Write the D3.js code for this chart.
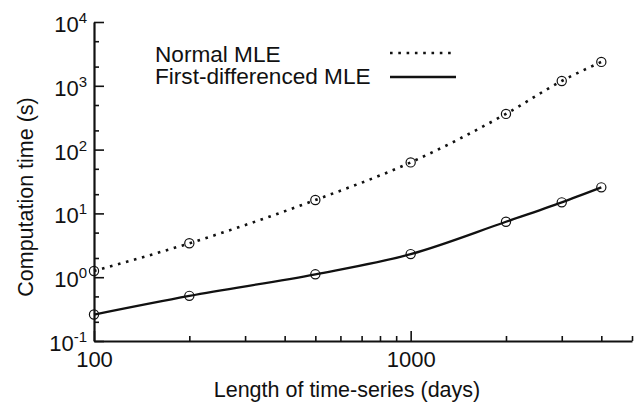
<!DOCTYPE html>
<html>
<head>
<meta charset="utf-8">
<script src="https://cdn.jsdelivr.net/npm/d3@7"></script>
<style>
  body { margin: 0; background: #fff; }
  svg { display: block; font-family: "Liberation Sans", Arial, Helvetica, sans-serif; }
</style>
</head>
<body>
<div id="chart"></div>
<script>
var lengths = [100, 200, 500, 1000, 2000, 3000, 4000];
var normalMLE = [1.25, 3.4, 16.2, 63, 363, 1190, 2370];
var firstDiffMLE = [0.26, 0.51, 1.11, 2.3, 7.4, 14.9, 25.6];
var seriesNames = ["Normal MLE", "First-differenced MLE"];
var xMajor = [100, 1000];
var xMinor = [200, 300, 400, 500, 600, 700, 800, 900, 2000, 3000, 4000, 5000];
var yMajor = [0.1, 1, 10, 100, 1000, 10000];
var yMinor = [0.2, 0.5, 2, 5, 20, 50, 200, 500, 2000, 5000];

var width = 636, height = 405;
var plotLeft = 94, plotRight = 632, plotTop = 22, plotBottom = 341;
var ink = "#111";

var svg = d3.select("#chart").append("svg")
            .attr("width", width)
            .attr("height", height);

var x = d3.scaleLog().domain([100, 5000]).range([plotLeft, plotRight]);
var y = d3.scaleLog().domain([0.1, 10000]).range([plotBottom, plotTop]);

// minor ticks first, then the major axis with labels on top
svg.append("g")
   .attr("transform", "translate(0," + plotBottom + ")")
   .call(d3.axisBottom(x).tickValues(xMinor).tickSize(-5).tickFormat(""))
   .call(function(g) { g.select(".domain").remove(); });

svg.append("g")
   .attr("transform", "translate(" + plotLeft + ",0)")
   .call(d3.axisLeft(y).tickValues(yMinor).tickSize(-5).tickFormat(""))
   .call(function(g) { g.select(".domain").remove(); });

var xAxis = svg.append("g")
   .attr("transform", "translate(0," + plotBottom + ")")
   .call(d3.axisBottom(x).tickValues(xMajor).tickSizeInner(-10).tickSizeOuter(0)
           .tickPadding(10).tickFormat(d3.format("d")));

var yAxis = svg.append("g")
   .attr("transform", "translate(" + plotLeft + ",0)")
   .call(d3.axisLeft(y).tickValues(yMajor).tickSizeInner(-10).tickSizeOuter(0)
           .tickPadding(7).tickFormat(""));

yAxis.selectAll(".tick text")
     .attr("dy", "0.43em")
     .each(function(d) {
        var t = d3.select(this);
        t.append("tspan").text("10");
        t.append("tspan").attr("dy", -9).attr("font-size", 15)
         .text(Math.round(Math.log10(d)));
     });

svg.selectAll(".tick line").attr("stroke", ink).attr("stroke-width", 1.6);
svg.selectAll(".domain").attr("stroke", ink).attr("stroke-width", 2.2);
svg.selectAll(".tick text").attr("fill", ink).attr("font-size", 22)
   .attr("font-family", "\"Liberation Sans\", Arial, Helvetica, sans-serif");

// series
var line = d3.line()
             .x(function(d) { return x(d[0]); })
             .y(function(d) { return y(d[1]); })
             .curve(d3.curveMonotoneX);

var normalPts = lengths.map(function(v, i) { return [v, normalMLE[i]]; });
var diffPts = lengths.map(function(v, i) { return [v, firstDiffMLE[i]]; });

svg.append("path")
   .datum(normalPts)
   .attr("d", line)
   .attr("fill", "none")
   .attr("stroke", ink)
   .attr("stroke-width", 2.6)
   .attr("stroke-dasharray", "2.6,5.7");

svg.append("path")
   .datum(diffPts)
   .attr("d", line)
   .attr("fill", "none")
   .attr("stroke", ink)
   .attr("stroke-width", 2.3);

[normalPts, diffPts].forEach(function(pts) {
   svg.append("g").selectAll("circle")
      .data(pts)
      .enter().append("circle")
      .attr("cx", function(d) { return x(d[0]); })
      .attr("cy", function(d) { return y(d[1]); })
      .attr("r", 4.6)
      .attr("fill", "none")
      .attr("stroke", ink)
      .attr("stroke-width", 1.2);
});

// legend
var legend = svg.append("g").attr("font-size", 22.6).attr("fill", ink);
legend.append("text").attr("x", 155).attr("y", 62).text(seriesNames[0]);
legend.append("text").attr("x", 155).attr("y", 84).text(seriesNames[1]);
legend.append("line")
      .attr("x1", 390).attr("x2", 453).attr("y1", 53).attr("y2", 53)
      .attr("stroke", ink).attr("stroke-width", 2.6)
      .attr("stroke-dasharray", "2.6,5.7");
legend.append("line")
      .attr("x1", 390).attr("x2", 456).attr("y1", 77).attr("y2", 77)
      .attr("stroke", ink).attr("stroke-width", 2.3);

// axis titles
svg.append("text")
   .attr("x", 347).attr("y", 397)
   .attr("text-anchor", "middle")
   .attr("font-size", 21.5)
   .attr("fill", ink)
   .text("Length of time-series (days)");

svg.append("text")
   .attr("transform", "translate(33,197) rotate(-90)")
   .attr("text-anchor", "middle")
   .attr("font-size", 21.5)
   .attr("fill", ink)
   .text("Computation time (s)");
</script>
</body>
</html>
